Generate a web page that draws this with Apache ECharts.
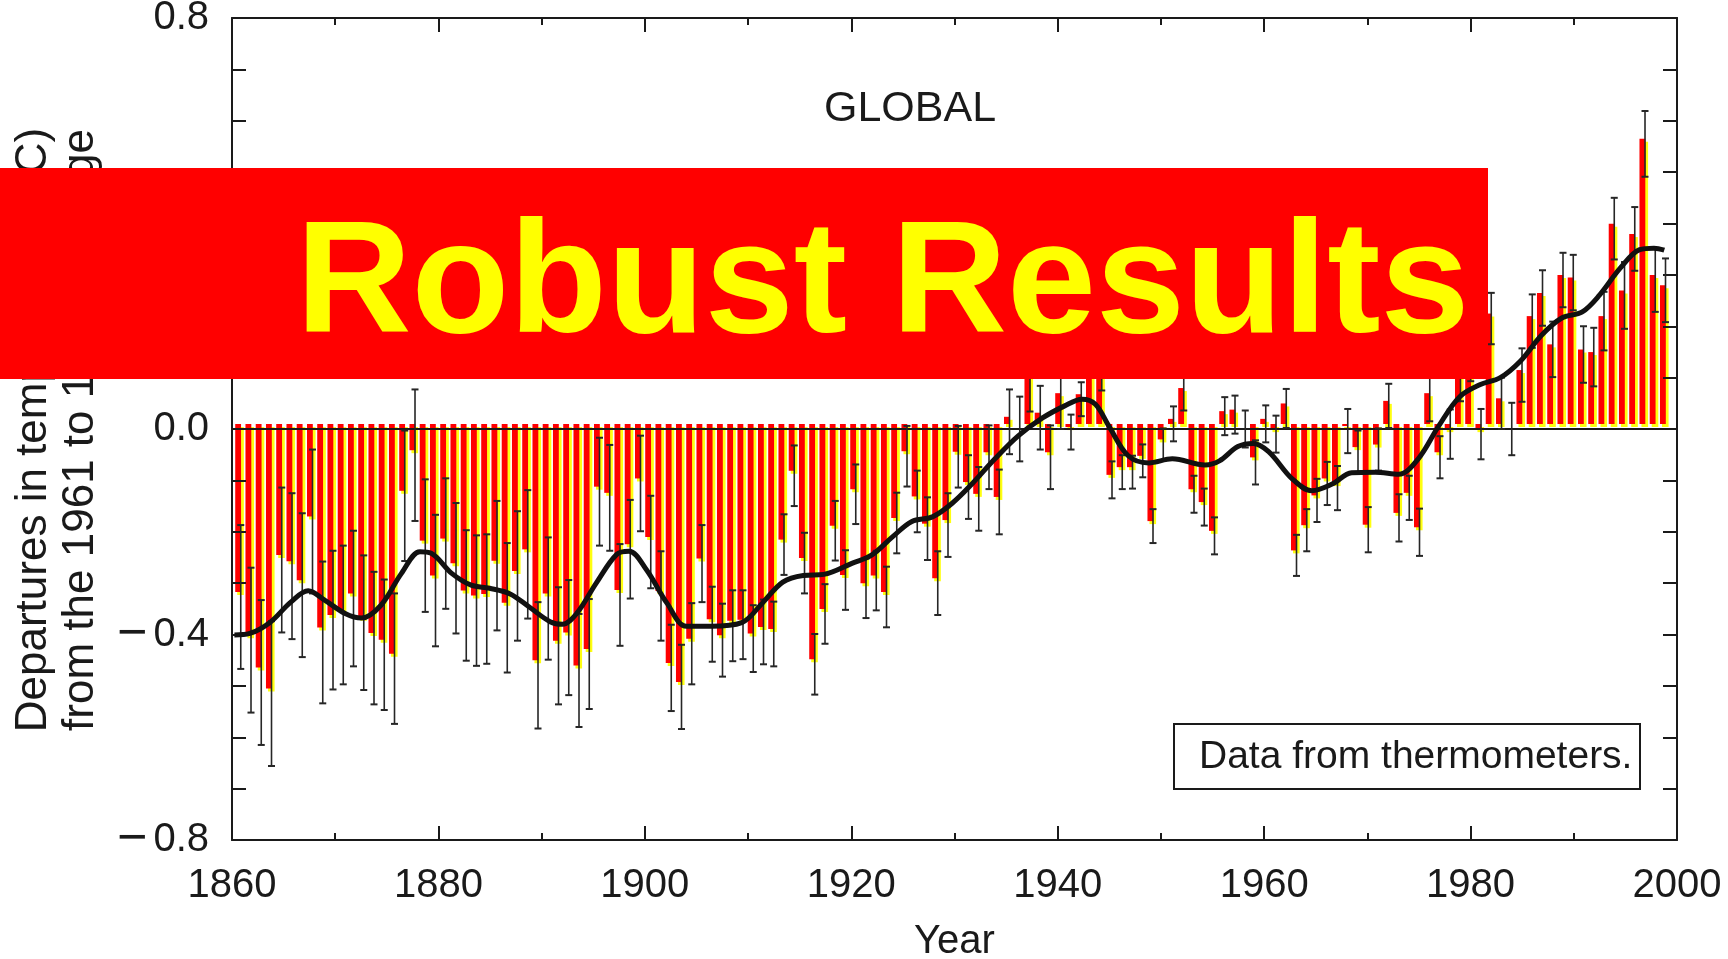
<!DOCTYPE html>
<html>
<head>
<meta charset="utf-8">
<title>Global temperature departures 1861-2000</title>
<script src="https://cdn.jsdelivr.net/npm/echarts@6.0.0/dist/echarts.min.js"></script>
<style>
  html, body { margin: 0; padding: 0; background: #fff; }
  #chart { width: 1728px; height: 959px; }
</style>
</head>
<body>
<div id="chart"></div>
<script>
// annual departures (deg C) from the 1961-1990 average, 1861..2000
const firstYear = 1861;
const anomaly = [
  -0.327, -0.411, -0.474, -0.515, -0.255, -0.267, -0.304, -0.180, -0.396, -0.372,
  -0.362, -0.330, -0.377, -0.407, -0.420, -0.447, -0.130, -0.051, -0.227, -0.295,
  -0.223, -0.271, -0.324, -0.334, -0.331, -0.266, -0.348, -0.286, -0.244, -0.460,
  -0.330, -0.422, -0.406, -0.470, -0.438, -0.122, -0.134, -0.323, -0.234, -0.106,
  -0.220, -0.325, -0.465, -0.502, -0.418, -0.262, -0.380, -0.411, -0.383, -0.381,
  -0.408, -0.395, -0.399, -0.225, -0.091, -0.261, -0.458, -0.360, -0.198, -0.294,
  -0.127, -0.310, -0.295, -0.327, -0.183, -0.053, -0.141, -0.194, -0.300, -0.187,
  -0.054, -0.113, -0.136, -0.055, -0.142, 0.014, 0.000, 0.096, 0.022, -0.055,
  0.060, -0.006, 0.058, 0.150, 0.110, -0.099, -0.084, -0.084, -0.062, -0.189,
  -0.030, 0.010, 0.070, -0.127, -0.152, -0.208, 0.025, 0.028, 0.000, -0.065,
  0.010, -0.010, 0.040, -0.246, -0.197, -0.139, -0.106, -0.115, -0.004, -0.045,
  -0.196, -0.040, 0.045, -0.173, -0.134, -0.201, 0.060, -0.055, -0.010, 0.100,
  0.140, -0.010, 0.215, 0.050, 0.000, 0.105, 0.210, 0.255, 0.155, 0.290,
  0.285, 0.145, 0.140, 0.210, 0.390, 0.260, 0.370, 0.555, 0.290, 0.270
];

// half length of the error bars
const errorBar = [
  0.140, 0.141, 0.141, 0.141, 0.141, 0.142, 0.140, 0.140, 0.138, 0.135,
  0.135, 0.132, 0.131, 0.129, 0.127, 0.127, 0.127, 0.128, 0.129, 0.128,
  0.127, 0.127, 0.127, 0.127, 0.126, 0.126, 0.126, 0.126, 0.125, 0.123,
  0.119, 0.114, 0.112, 0.110, 0.107, 0.105, 0.103, 0.099, 0.096, 0.093,
  0.090, 0.087, 0.084, 0.082, 0.079, 0.075, 0.073, 0.071, 0.069, 0.067,
  0.065, 0.063, 0.063, 0.059, 0.059, 0.059, 0.059, 0.058, 0.058, 0.058,
  0.058, 0.058, 0.058, 0.059, 0.059, 0.059, 0.060, 0.061, 0.062, 0.062,
  0.060, 0.062, 0.062, 0.062, 0.063, 0.063, 0.063, 0.062, 0.062, 0.062,
  0.060, 0.034, 0.033, 0.035, 0.035, 0.036, 0.033, 0.032, 0.032, 0.033,
  0.031, 0.034, 0.034, 0.036, 0.036, 0.036, 0.037, 0.037, 0.036, 0.043,
  0.036, 0.036, 0.038, 0.040, 0.041, 0.042, 0.042, 0.043, 0.043, 0.042,
  0.044, 0.041, 0.043, 0.046, 0.043, 0.046, 0.045, 0.041, 0.048, 0.046,
  0.047, 0.049, 0.050, 0.050, 0.051, 0.052, 0.052, 0.054, 0.054, 0.053,
  0.054, 0.055, 0.057, 0.057, 0.060, 0.065, 0.062, 0.064, 0.062, 0.062
];

// smoothed curve
const smoothYears = [
  1860.5, 1862, 1864, 1866, 1867.7, 1869.3, 1871.3, 1872.9, 1874.8, 1876.8,
  1878.6, 1879.7, 1881.7, 1883.6, 1885.4, 1887.4, 1889.3, 1891.3, 1892.5, 1893.9,
  1895.8, 1897.8, 1899, 1900.7, 1902.7, 1904.6, 1907, 1910, 1912, 1914,
  1916, 1918, 1920.8, 1922.7, 1924.7, 1926.6, 1928.6, 1930.5, 1932.5, 1934.7,
  1937, 1939.3, 1941.5, 1943.2, 1944.5, 1945.8, 1947.7, 1949.7, 1952, 1955.2,
  1956.6, 1958.4, 1959.9, 1961.4, 1963.7, 1965.6, 1967.6, 1969.5, 1971.8, 1974.1,
  1976, 1978, 1980, 1982, 1984, 1986, 1988, 1990, 1992, 1993.7,
  1995.7, 1997.6, 1999, 2000
];
const smoothValues = [
  -0.401, -0.398, -0.376, -0.337, -0.315, -0.333, -0.359, -0.368, -0.343, -0.281,
  -0.239, -0.242, -0.281, -0.304, -0.310, -0.321, -0.347, -0.375, -0.380, -0.359,
  -0.300, -0.244, -0.238, -0.274, -0.339, -0.384, -0.384, -0.377, -0.339, -0.298,
  -0.285, -0.283, -0.261, -0.245, -0.210, -0.180, -0.171, -0.145, -0.106, -0.058,
  -0.013, 0.021, 0.045, 0.058, 0.048, 0.006, -0.052, -0.066, -0.058, -0.070,
  -0.062, -0.034, -0.028, -0.044, -0.097, -0.120, -0.107, -0.085, -0.084, -0.088,
  -0.058, 0.006, 0.062, 0.086, 0.100, 0.133, 0.182, 0.216, 0.228, 0.261,
  0.313, 0.349, 0.352, 0.348
];

const fontFamily = '"Liberation Sans", Arial, Helvetica, sans-serif';
const ink = "#1a1a1a";

const barData = anomaly.map((v, i) => [firstYear + i, v, errorBar[i]]);
const smoothData = smoothYears.map((y, i) => [y, smoothValues[i]]);

// 红黄错位的柱子
const renderBar = (params, api) => {
  const year = api.value(0);
  const base = api.coord([year, 0]);
  const tip = api.coord([year, api.value(1)]);
  const pitch = api.size([1, 0])[0];
  const left = base[0] - 0.42 * pitch;
  const split = base[0] + 0.15 * pitch;
  const right = base[0] + 0.42 * pitch;
  const top = Math.min(base[1], tip[1]);
  const h = Math.abs(tip[1] - base[1]);
  return {
    type: "group",
    children: [
      {
        type: "rect",
        shape: { x: left + 2, y: top - 2, width: right - left - 2, height: h },
        style: { fill: "#ffff10" },
      },
      {
        type: "rect",
        shape: { x: left, y: top - 5, width: split - left, height: h },
        style: { fill: "#ff0000" },
      },
    ],
  };
};

// 误差棒
const renderError = (params, api) => {
  const year = api.value(0);
  const v = api.value(1);
  const e = api.value(2);
  const base = api.coord([year, 0]);
  const pitch = api.size([1, 0])[0];
  const x = base[0] + 0.12 * pitch;
  const hi = api.coord([year, v + e])[1];
  const lo = api.coord([year, v - e])[1];
  const cap = 3.5;
  const stroke = { stroke: "#262626", lineWidth: 1.6 };
  const capStroke = { stroke: "#262626", lineWidth: 2 };
  return {
    type: "group",
    children: [
      { type: "line", shape: { x1: x, y1: hi, x2: x, y2: lo }, style: stroke },
      { type: "line", shape: { x1: x - cap, y1: hi, x2: x + cap, y2: hi }, style: capStroke },
      { type: "line", shape: { x1: x - cap, y1: lo, x2: x + cap, y2: lo }, style: capStroke },
    ],
  };
};

const lineStyle = { color: ink, width: 2 };
// the printed minus sign is long, so draw it a bit larger
const yLabel = (v) => (v < -1e-9 ? "{m|\u2212}" : "") + Math.abs(v).toFixed(1);

const textStyle = (size, extra) =>
  Object.assign({ fill: ink, fontSize: size, fontFamily: fontFamily }, extra);

const option = {
  animation: false,
  grid: [
    { left: 232, right: 51, top: 18, bottom: 119, outerBoundsMode: "none" },
    // bars sit on their own slightly narrower grid, as in the figure
    { left: 234.4, right: 58.6, top: 18, bottom: 119, outerBoundsMode: "none" },
  ],
  xAxis: [
    {
      gridIndex: 0,
      type: "value",
      min: 1860,
      max: 2000,
      interval: 20,
      position: "bottom",
      z: 5,
      axisLine: { show: true, onZero: false, lineStyle },
      axisTick: { show: true, inside: true, length: 14, lineStyle },
      minorTick: { show: true, splitNumber: 2, length: 7, lineStyle },
      splitLine: { show: false },
      axisLabel: {
        fontSize: 40,
        color: ink,
        fontFamily,
        margin: 26,
        showMinLabel: true,
        showMaxLabel: true,
        formatter: (v) => String(v),
      },
      name: "Year",
      nameLocation: "middle",
      nameGap: 82,
      nameTextStyle: { fontSize: 40, color: ink, fontFamily },
    },
    {
      gridIndex: 0,
      type: "value",
      min: 1860,
      max: 2000,
      interval: 20,
      position: "top",
      z: 5,
      axisLine: { show: true, onZero: false, lineStyle },
      axisTick: { show: true, inside: true, length: 14, lineStyle },
      minorTick: { show: true, splitNumber: 2, length: 7, lineStyle },
      splitLine: { show: false },
      axisLabel: { show: false },
    },
    { gridIndex: 1, type: "value", min: 1860.5, max: 2000.5, show: false },
  ],
  yAxis: [
    {
      gridIndex: 0,
      type: "value",
      min: -0.8,
      max: 0.8,
      interval: 0.4,
      position: "left",
      z: 5,
      axisLine: { show: true, onZero: false, lineStyle },
      axisTick: { show: true, inside: true, length: 14, lineStyle },
      minorTick: { show: true, splitNumber: 4, length: 14, lineStyle },
      splitLine: { show: false },
      axisLabel: {
        fontSize: 40,
        color: ink,
        fontFamily,
        margin: 23,
        formatter: yLabel,
        rich: { m: { fontSize: 52, color: ink, fontFamily, padding: [0, 6, 0, 0] } },
      },
    },
    {
      gridIndex: 0,
      type: "value",
      min: -0.8,
      max: 0.8,
      interval: 0.8,
      position: "right",
      z: 5,
      axisLine: { show: true, onZero: false, lineStyle },
      axisTick: { show: true, inside: true, length: 14, lineStyle },
      minorTick: { show: true, splitNumber: 8, length: 14, lineStyle },
      // the zero line
      splitLine: { show: true, lineStyle },
      axisLabel: { show: false },
    },
    { gridIndex: 1, type: "value", min: -0.8, max: 0.8, show: false },
  ],
  series: [
    {
      type: "custom",
      xAxisIndex: 2,
      yAxisIndex: 2,
      z: 2,
      renderItem: renderBar,
      encode: { x: 0, y: 1 },
      data: barData,
    },
    {
      type: "custom",
      xAxisIndex: 2,
      yAxisIndex: 2,
      z: 6,
      renderItem: renderError,
      encode: { x: 0, y: 1 },
      data: barData,
    },
    {
      type: "line",
      xAxisIndex: 2,
      yAxisIndex: 2,
      z: 7,
      smooth: 0.35,
      showSymbol: false,
      lineStyle: { color: "#111", width: 5 },
      data: smoothData,
    },
  ],
  graphic: [
    {
      type: "text",
      x: 910,
      y: 109,
      z: 20,
      style: textStyle(43, { text: "GLOBAL", align: "center", textAlign: "center", verticalAlign: "middle", textVerticalAlign: "middle" }),
    },
    {
      type: "rect",
      z: 20,
      shape: { x: 1174, y: 724, width: 466, height: 65 },
      style: { fill: "#fff", stroke: ink, lineWidth: 2 },
    },
    {
      type: "text",
      x: 1199,
      y: 757,
      z: 21,
      style: textStyle(39, { text: "Data from thermometers.", align: "left", textAlign: "left", verticalAlign: "middle", textVerticalAlign: "middle" }),
    },
    {
      type: "text",
      x: 34,
      y: 430,
      rotation: Math.PI / 2,
      z: 20,
      style: textStyle(44, { text: "Departures in temperature (\u00b0C)", align: "center", textAlign: "center", verticalAlign: "middle", textVerticalAlign: "middle" }),
    },
    {
      type: "text",
      x: 81,
      y: 430,
      rotation: Math.PI / 2,
      z: 20,
      style: textStyle(44, { text: "from the 1961 to 1990 average", align: "center", textAlign: "center", verticalAlign: "middle", textVerticalAlign: "middle" }),
    },
    // red banner over the chart
    {
      type: "rect",
      z: 100,
      shape: { x: 0, y: 168, width: 1488, height: 211 },
      style: { fill: "#ff0000" },
    },
    {
      type: "text",
      x: 296,
      y: 288,
      z: 101,
      style: {
        text: "Robust Results",
        fill: "#ffff00",
        fontSize: 160,
        fontWeight: "bold",
        fontFamily,
        align: "left",
        textAlign: "left",
        verticalAlign: "middle",
        textVerticalAlign: "middle",
      },
    },
  ],
};

const chart = echarts.init(document.getElementById("chart"));
chart.setOption(option);
</script>
</body>
</html>
